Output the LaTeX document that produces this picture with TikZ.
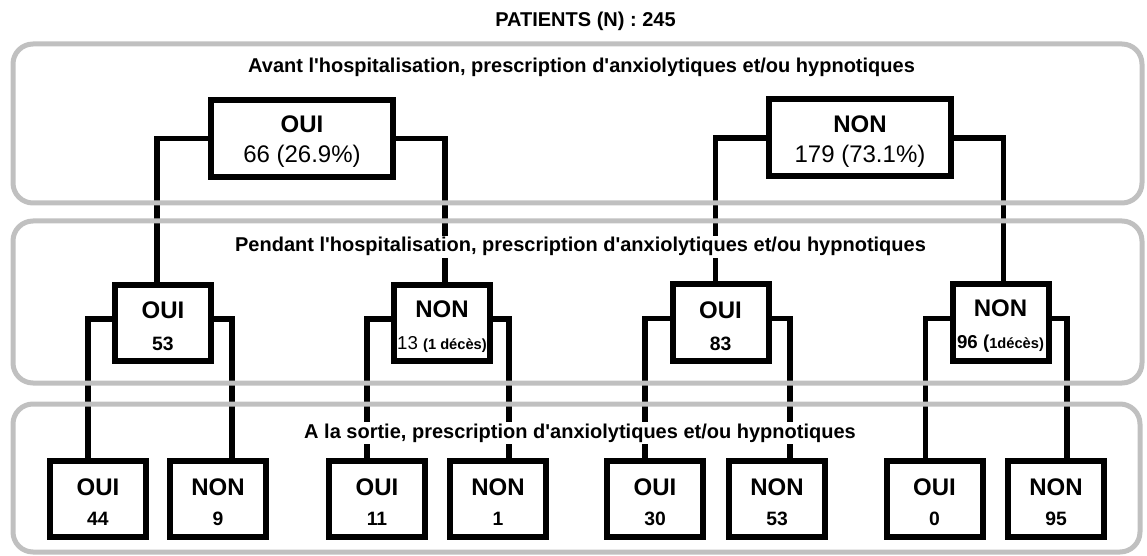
\documentclass[tikz,border=0pt]{standalone}
\usepackage{fontspec}
\setmainfont{Liberation Sans}[Ligatures=TeXOff]
\definecolor{bandgray}{RGB}{192,192,192}
\tikzset{
  box/.style={draw, line width=4.5pt, fill=white, inner sep=0pt, align=center,
    font=\bfseries\fontsize{18}{22.5}\selectfont},
  bigbox/.style={box, minimum width=136.5pt, minimum height=57.75pt},
  smallbox/.style={box, minimum width=72pt, minimum height=57pt},
  link/.style={line width=4pt},
  band/.style={draw=bandgray, line width=3.75pt, rounded corners=15pt},
  bandtitle/.style={fill=white, inner sep=1.5pt, anchor=base,
    font=\bfseries\fontsize{15}{18}\selectfont},
}
\newcommand{\numfont}{\fontsize{14.5}{24}\selectfont}
\newcommand{\decesfont}{\fontsize{11}{24}\selectfont}
\newcommand{\hi}{\rule{0pt}{17.8pt}}
\begin{document}
\begin{tikzpicture}[x=0.75pt,y=-0.75pt]
  \useasboundingbox (0,0) rectangle (1147,556);
  % avant l'hospitalisation
  \node[bigbox] (avOui) at (302,138.5) {\hi OUI\\{\mdseries 66 (26.9\%)}};
  \node[bigbox] (avNon) at (860,138) {\hi NON\\{\mdseries 179 (73.1\%)}};
  % pendant l'hospitalisation
  \node[smallbox] (peOuiA) at (163,323) {\hi OUI\\[1.5pt]{\numfont 53}};
  \node[smallbox] (peNonA) at (442,323) {\hi NON\\[1.5pt]{\mdseries\fontsize{14}{24}\selectfont 13 }{\decesfont(1 décès)}};
  \node[smallbox] (peOuiB) at (720.5,322.5) {\hi OUI\\[1.5pt]{\numfont 83}};
  \node[smallbox] (peNonB) at (1000.5,322.5) {\hi NON\\[1.5pt]{\fontsize{14}{24}\selectfont 96 (}{\decesfont 1décès)}};
  % a la sortie
  \node[smallbox] (soOuiA) at (98,498.5) {\hi OUI\\{\numfont 44}};
  \node[smallbox] (soNonA) at (218,498.5) {\hi NON\\{\numfont 9}};
  \node[smallbox] (soOuiB) at (377,498.5) {\hi OUI\\{\numfont 11}};
  \node[smallbox] (soNonB) at (498,498.5) {\hi NON\\{\numfont 1}};
  \node[smallbox] (soOuiC) at (655,498.5) {\hi OUI\\{\numfont 30}};
  \node[smallbox] (soNonC) at (777,498.5) {\hi NON\\{\numfont 53}};
  \node[smallbox] (soOuiD) at (934.5,498.5) {\hi OUI\\{\numfont 0}};
  \node[smallbox] (soNonD) at (1056,498.5) {\hi NON\\{\numfont 95}};
  % liens
  \draw[link] (avOui.west) -| ([xshift=-4.5pt]peOuiA.north);
  \draw[link] (avOui.east) -| ([xshift=2.25pt]peNonA.north);
  \draw[link] (avNon.west) -| ([xshift=-4pt]peOuiB.north);
  \draw[link] (avNon.east) -| ([xshift=2pt]peNonB.north);
  \draw[link] ([yshift=3pt]peOuiA.west) -| ([xshift=-7.5pt]soOuiA.north);
  \draw[link] ([yshift=3pt]peOuiA.east) -| ([xshift=10.5pt]soNonA.north);
  \draw[link] ([yshift=3pt]peNonA.west) -| ([xshift=-7.5pt]soOuiB.north);
  \draw[link] ([yshift=3pt]peNonA.east) -| ([xshift=8.25pt]soNonB.north);
  \draw[link] ([yshift=3pt]peOuiB.west) -| ([xshift=-7.5pt]soOuiC.north);
  \draw[link] ([yshift=3pt]peOuiB.east) -| ([xshift=9.75pt]soNonC.north);
  \draw[link] ([yshift=3pt]peNonB.west) -| ([xshift=-7pt]soOuiD.north);
  \draw[link] ([yshift=3pt]peNonB.east) -| ([xshift=8.25pt]soNonD.north);
  % bandes grises
  \draw[band] (13,44) rectangle (1142,203);
  \draw[band] (13,221) rectangle (1142,383);
  \draw[band] (13,404) rectangle (1140,552);
  % titres
  \node[font=\bfseries\fontsize{15}{18}\selectfont, anchor=base] (patients) at (585.5,27) {PATIENTS (N) : 245};
  \node[bandtitle] (avTitre) at (581.5,73) {Avant l'hospitalisation, prescription d'anxiolytiques et/ou hypnotiques};
  \node[bandtitle] (peTitre) at (580.5,252) {Pendant l'hospitalisation, prescription d'anxiolytiques et/ou hypnotiques};
  \node[bandtitle] (soTitre) at (580,438) {A la sortie, prescription d'anxiolytiques et/ou hypnotiques};
\end{tikzpicture}
\end{document}
